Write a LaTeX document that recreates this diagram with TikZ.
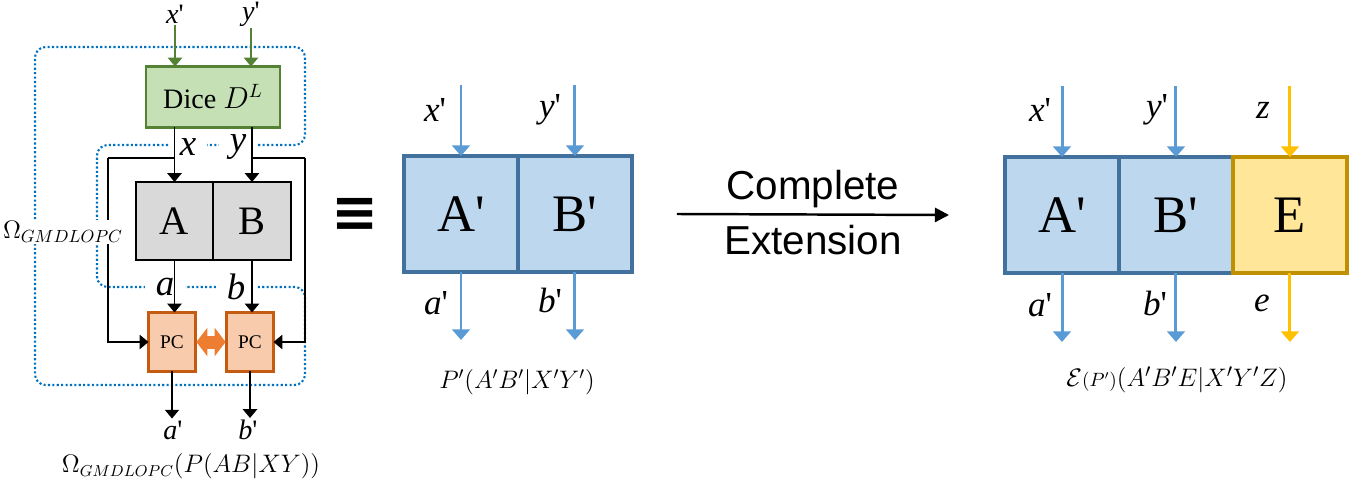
\documentclass[tikz,border=0pt]{standalone}
\usepackage{fontspec}
\setmainfont{Liberation Serif}
\newfontfamily\arialfont{Liberation Sans}
\newfontfamily\symbfont{DejaVu Sans}
\usepackage{amsmath}
\usetikzlibrary{arrows.meta,positioning,calc}

\definecolor{dicefill}{HTML}{C5E0B4}
\definecolor{diceline}{HTML}{548235}
\definecolor{boxgray}{HTML}{D9D9D9}
\definecolor{pcfill}{HTML}{F8CBAD}
\definecolor{pcline}{HTML}{C55A11}
\definecolor{pcorange}{HTML}{ED7D31}
\definecolor{partyfill}{HTML}{BDD7EE}
\definecolor{partyline}{HTML}{41719C}
\definecolor{evefill}{HTML}{FFE699}
\definecolor{eveline}{HTML}{BF9000}
\definecolor{arrowblue}{HTML}{5B9BD5}
\definecolor{arrowgold}{HTML}{FFC000}
\definecolor{loopblue}{HTML}{0070C0}

\begin{document}
\begin{tikzpicture}[
  x=0.02cm, y=-0.02cm,
  box/.style={rectangle, draw, outer sep=0pt, inner sep=0pt},
  dicebox/.style={box, draw=diceline, fill=dicefill, line width=1.3pt,
                  minimum width=2.68cm, minimum height=1.22cm,
                  font=\fontsize{16}{18}\selectfont},
  graybox/.style={box, draw=black, fill=boxgray, line width=1.3pt,
                  minimum width=1.55cm, minimum height=1.56cm,
                  font=\fontsize{23}{26}\selectfont},
  pcbox/.style={box, draw=pcline, fill=pcfill, line width=1.6pt,
                minimum width=0.94cm, minimum height=1.18cm,
                font=\fontsize{11}{13}\selectfont},
  partybox/.style={box, draw=partyline, fill=partyfill, line width=2.2pt,
                   minimum width=2.28cm, minimum height=2.32cm,
                   font=\fontsize{30}{34}\selectfont},
  evebox/.style={partybox, draw=eveline, fill=evefill},
  blk/.style={-{Triangle[length=5pt,width=8pt]}, line width=1.1pt},
  grn/.style={blk, color=diceline},
  blu/.style={-{Triangle[length=6pt,width=10pt]}, line width=1.7pt, color=arrowblue},
  gld/.style={blu, color=arrowgold},
  pcarrow/.style={{Triangle[length=0.22cm,width=0.56cm]}-{Triangle[length=0.22cm,width=0.56cm]},
                  line width=0.26cm, color=pcorange, shorten <=0.5pt, shorten >=0.5pt},
  ext/.style={-{Triangle[length=8pt,width=8pt]}, line width=1.4pt},
  loopline/.style={draw=loopblue, line width=1.2pt, dash pattern=on 1.2pt off 1.3pt,
                   rounded corners=6pt},
  smlbl/.style={inner sep=1pt, font=\fontsize{16}{18}\selectfont},
  biglbl/.style={fill=white, inner xsep=0.22cm, inner ysep=1pt,
                 font=\fontsize{21}{24}\selectfont},
  plbl/.style={inner sep=1pt, font=\fontsize{20}{22}\selectfont},
  caption/.style={inner sep=1pt, font=\fontsize{14.5}{16}\selectfont},
]
\useasboundingbox (0,0) rectangle (1370,487);

% left: the GMDLOPC construction
\node[dicebox] (dice) at (213,97) {Dice $D^{L}$};
\node[graybox] (A) at (174.5,221) {A};
\node[graybox, right=0pt of A] (B) {B};
\node[pcbox] (pcA) at (172,342) {PC};
\node[pcbox] (pcB) at (250,342) {PC};

\draw[loopline] (35,300) |- (305,47) |- (97,145) |- (305,287) |- (35,385) -- cycle;

\node[biglbl] (xl) at (188,147) {\textit{x}};
\node[biglbl] (yl) at (238,147) {\textit{y}};
\node[biglbl] (al) at (165,287) {\textit{a}};
\node[biglbl] (bl) at (236,287) {\textit{b}};

\node[smlbl] (xin) at (175,14) {\textit{x}\textquotesingle};
\node[smlbl] (yin) at (251,14) {\textit{y}\textquotesingle};
\draw[grn] (xin) -- (xin |- dice.north);
\draw[grn] (yin) -- (yin |- dice.north);

\draw[blk] (dice.south -| A.north) -- (A.north);
\draw[blk] (dice.south -| B.north) -- (B.north);
\draw[blk] (A.south) -- (A.south |- pcA.north);
\draw[blk] (B.south) -- (B.south |- pcB.north);

\coordinate (fl) at (108,158);
\coordinate (fr) at (305,158);
\draw[line width=1.1pt] (fl -| A.north) -- (fl);
\draw[line width=1.1pt] (fr -| B.north) -- (fr);
\draw[blk] (fl) |- (pcA.west);
\draw[blk] (fr) |- (pcB.east);

\draw[pcarrow] (pcA) -- (pcB);

\node[smlbl] (aout) at (173,430) {\textit{a}\textquotesingle};
\node[smlbl] (bout) at (248,430) {\textit{b}\textquotesingle};
\draw[blk] (pcA.south) -- (pcA.south |- aout.north);
\draw[blk] (pcB.south) -- (pcB.south |- bout.north);

\node[fill=white, inner sep=1pt, font=\fontsize{14}{15}\selectfont] (omlbl) at (63,232) {$\Omega_{GMDLOPC}$};
\node[inner sep=1pt, font=\fontsize{13.3}{16}\selectfont] (omcap) at (191,466) {$\Omega_{GMDLOPC}(P(AB|XY))$};

\node[font=\symbfont\bfseries\fontsize{32}{34}\selectfont] (eq) at (355,215) {≡};

% middle: the box P'
\node[partybox] (mA) at (461,214) {A\textquotesingle};
\node[partybox, right=0pt of mA] (mB) {B\textquotesingle};
\draw[blu] ([yshift=1.42cm]mA.north) -- (mA.north);
\draw[blu] ([yshift=1.42cm]mB.north) -- (mB.north);
\draw[blu] (mA.south) -- ([yshift=-1.36cm]mA.south);
\draw[blu] (mB.south) -- ([yshift=-1.36cm]mB.south);
\node[plbl] (mxl) at (435,110) {\textit{x}\textquotesingle};
\node[plbl] (myl) at (550,110) {\textit{y}\textquotesingle};
\node[plbl] (mal) at (436,303) {\textit{a}\textquotesingle};
\node[plbl] (mbl) at (550,300) {\textit{b}\textquotesingle};
\node[caption] (mcap) at (517,382) {$P'(A'B'|X'Y')$};

% right: the complete extension
\node[partybox] (rA) at (1062,215) {A\textquotesingle};
\node[partybox, right=0pt of rA] (rB) {B\textquotesingle};
\node[evebox, right=0pt of rB] (rE) {E};
\draw[blu] ([yshift=1.42cm]rA.north) -- (rA.north);
\draw[blu] ([yshift=1.42cm]rB.north) -- (rB.north);
\draw[gld] ([yshift=1.42cm]rE.north) -- (rE.north);
\draw[blu] (rA.south) -- ([yshift=-1.38cm]rA.south);
\draw[blu] (rB.south) -- ([yshift=-1.38cm]rB.south);
\draw[gld] (rE.south) -- ([yshift=-1.38cm]rE.south);
\node[plbl] (rxl) at (1040,110) {\textit{x}\textquotesingle};
\node[plbl] (ryl) at (1157,110) {\textit{y}\textquotesingle};
\node[plbl] (rzl) at (1263,110) {\textit{z}};
\node[plbl] (ral) at (1040,305) {\textit{a}\textquotesingle};
\node[plbl] (rbl) at (1155,303) {\textit{b}\textquotesingle};
\node[plbl] (rel) at (1262,303) {\textit{e}};
\node[caption, font=\fontsize{15}{17}\selectfont] (rcap) at (1177,380) {$\mathcal{E}{\scriptstyle(P')}(A'B'E|X'Y'Z)$};

\draw[ext] ([xshift=0.9cm]mB.east) --
  node[above, font=\arialfont\fontsize{23}{25}\selectfont] {Complete}
  node[below, yshift=-2pt, font=\arialfont\fontsize{23}{25}\selectfont] {Extension}
  ([xshift=-1.12cm]rA.west);
\end{tikzpicture}
\end{document}
